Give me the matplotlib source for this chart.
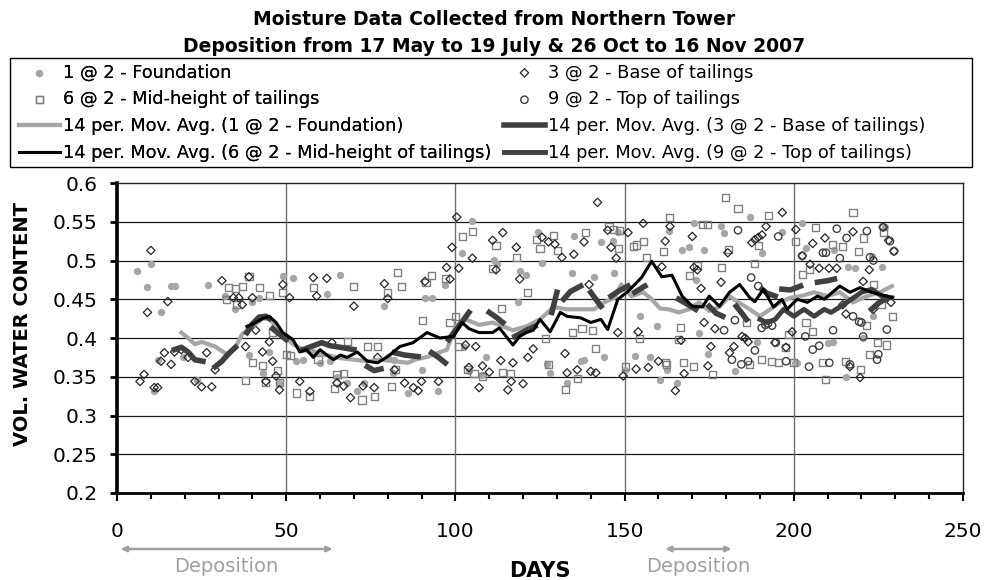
import numpy as np
import matplotlib
matplotlib.use('Agg')
import matplotlib.pyplot as plt
from matplotlib.patches import Rectangle

plt.rcParams['font.family'] = ['DejaVu Sans']

# ---- scatter data: 1 @ 2 - Foundation
found_days = [6, 9, 10, 11, 12, 13, 16, 17, 19.5, 23.6, 27, 32, 35, 39, 40, 42, 43, 45, 48, 49,
              52, 53, 55, 58, 60, 62, 63, 65, 66, 68, 71, 73, 79, 80, 81.5, 82, 86, 90, 91, 93,
              95, 97, 102, 102.5, 104, 105, 108, 109, 111.5, 112.2, 118.5, 119, 121, 124.5, 125.5,
              127, 128, 133, 134.5, 135, 137, 138, 141, 143, 144, 146.5, 147, 148, 150, 153,
              154.5, 157.5, 159.5, 160.5, 162.5, 163, 165.5, 167, 169, 170.5, 171, 172, 173.5,
              174.5, 178.5, 179.5, 182.5, 187, 189, 190.5, 196.5, 200.4, 201, 202.5, 203.5, 210,
              211.7, 212, 215.5, 216, 218, 220.5, 223, 223.5, 226, 227]
found_vals = [0.486, 0.466, 0.495, 0.331, 0.372, 0.433, 0.467, 0.467, 0.375, 0.346, 0.469, 0.454,
              0.437, 0.378, 0.446, 0.452, 0.355, 0.382, 0.342, 0.480, 0.477, 0.370, 0.372, 0.382,
              0.368, 0.457, 0.370, 0.350, 0.481, 0.342, 0.331, 0.342, 0.441, 0.375, 0.355, 0.372,
              0.329, 0.359, 0.452, 0.452, 0.331, 0.469, 0.510, 0.389, 0.357, 0.551, 0.352, 0.375,
              0.501, 0.496, 0.447, 0.486, 0.481, 0.537, 0.497, 0.366, 0.355, 0.342, 0.484, 0.531,
              0.370, 0.372, 0.479, 0.524, 0.375, 0.525, 0.484, 0.537, 0.359, 0.377, 0.429, 0.376,
              0.415, 0.346, 0.359, 0.538, 0.342, 0.513, 0.518, 0.549, 0.475, 0.407, 0.513, 0.379,
              0.544, 0.536, 0.357, 0.556, 0.395, 0.510, 0.537, 0.368, 0.368, 0.549, 0.516, 0.394,
              0.395, 0.514, 0.350, 0.491, 0.490, 0.400, 0.506, 0.428, 0.491, 0.543]

# ---- 3 @ 2 - Base of tailings
base_days = [6.8, 8, 9, 10, 11, 12, 13, 14, 15, 16, 17, 19, 21, 23, 25, 26.5, 28, 29, 31, 34.4,
             36, 37, 38, 39, 40, 41, 43, 44, 45, 46, 47, 48, 49, 51, 54, 57, 58, 59, 62, 63.5,
             65, 67, 69, 70, 72.7, 76, 77, 79, 80, 82, 85, 87.6, 89, 90, 91, 95, 97.4, 98.4, 99,
             100.4, 101, 103, 104, 105, 106, 107, 108, 110, 111, 112, 113.4, 114, 115.5, 116.5,
             117, 118, 119, 120, 121.4, 123, 125.6, 127.5, 129.4, 131.5, 132.4, 133, 135, 136,
             138, 139.5, 140, 141.5, 142, 145, 146, 147.5, 148, 149.6, 151, 153.4, 154, 155.5,
             157, 160, 161, 162, 163.4, 165, 166.7, 167.6, 170, 170.5, 171.5, 172.6, 173.5, 174.6,
             175.5, 176.7, 178.5, 180.5, 181, 182.3, 184.7, 185.6, 186.5, 187.6, 188.5, 189.5,
             190.6, 191.8, 194.4, 196.6, 197.7, 199.5, 200.6, 202.5, 204.8, 205.6, 207.5, 209.2,
             210.4, 212.7, 214.5, 215.4, 216.6, 217.5, 219.6, 220.5, 222.3, 223.5, 226.4, 228,
             228.7, 229.6]
base_vals = [0.344, 0.353, 0.433, 0.513, 0.336, 0.336, 0.370, 0.381, 0.447, 0.366, 0.382, 0.385,
             0.375, 0.344, 0.337, 0.381, 0.337, 0.359, 0.474, 0.452, 0.452, 0.443, 0.389, 0.479,
             0.452, 0.410, 0.382, 0.344, 0.395, 0.370, 0.351, 0.333, 0.469, 0.452, 0.344, 0.331,
             0.478, 0.454, 0.477, 0.394, 0.342, 0.338, 0.323, 0.441, 0.338, 0.336, 0.375, 0.470,
             0.451, 0.359, 0.342, 0.336, 0.332, 0.344, 0.473, 0.344, 0.491, 0.476, 0.517, 0.556,
             0.490, 0.391, 0.362, 0.503, 0.389, 0.336, 0.364, 0.356, 0.526, 0.488, 0.371, 0.536,
             0.333, 0.344, 0.368, 0.517, 0.476, 0.341, 0.375, 0.386, 0.530, 0.524, 0.521, 0.504,
             0.380, 0.355, 0.508, 0.359, 0.524, 0.469, 0.357, 0.355, 0.575, 0.539, 0.517, 0.503,
             0.407, 0.351, 0.536, 0.360, 0.408, 0.548, 0.362, 0.370, 0.492, 0.525, 0.544, 0.332,
             0.397, 0.354, 0.531, 0.491, 0.488, 0.464, 0.420, 0.364, 0.389, 0.412, 0.472, 0.510,
             0.381, 0.389, 0.402, 0.400, 0.395, 0.523, 0.527, 0.530, 0.533, 0.544, 0.394, 0.562,
             0.388, 0.408, 0.540, 0.506, 0.495, 0.522, 0.490, 0.529, 0.490, 0.490, 0.443, 0.431,
             0.363, 0.537, 0.349, 0.473, 0.488, 0.437, 0.543, 0.526, 0.446, 0.512]

# ---- 6 @ 2 - Mid-height of tailings
mid_days = [32.4, 33, 35, 35.3, 37, 38, 39, 40, 42, 43, 44, 45, 46, 47.5, 48, 49, 50, 51.4, 53,
            57, 58, 59.4, 64.4, 65, 67, 68, 70, 72.4, 74, 76, 77, 80, 81, 82.4, 83, 84, 90.4,
            91.3, 93, 97, 98.4, 100, 101, 102, 103.7, 105, 105.5, 108, 111, 112, 113.5, 114,
            116.4, 118, 121.4, 124, 125, 126.5, 127.4, 129, 130.3, 132.4, 134.5, 136.2, 137.4,
            138.5, 140.4, 141.5, 145.4, 146.6, 148.3, 148.6, 150.4, 152.5, 153.6, 154.5, 155.5,
            156.6, 161.4, 162, 162.5, 163.4, 165.8, 166.4, 167.4, 169.3, 170.3, 171.4, 173, 174.6,
            176, 178.5, 179.7, 180.6, 183.5, 186, 187, 188.5, 189.5, 190.5, 192.4, 193.5, 195.4,
            197.5, 198.3, 199.8, 200.6, 202.7, 203.6, 204.6, 205.6, 206.5, 208.6, 209.5, 211.5,
            214.5, 215.4, 217.5, 219, 219.6, 220.5, 221.6, 222.5, 223.5, 224.6, 225.8, 226.4,
            227.5, 229.3]
mid_vals = [0.450, 0.465, 0.464, 0.443, 0.466, 0.345, 0.479, 0.368, 0.465, 0.364, 0.343, 0.455,
            0.407, 0.358, 0.342, 0.459, 0.379, 0.377, 0.329, 0.325, 0.465, 0.372, 0.335, 0.353,
            0.354, 0.395, 0.466, 0.320, 0.389, 0.325, 0.389, 0.459, 0.338, 0.359, 0.485, 0.466,
            0.423, 0.472, 0.481, 0.477, 0.420, 0.428, 0.389, 0.531, 0.359, 0.538, 0.354, 0.350,
            0.490, 0.519, 0.438, 0.356, 0.354, 0.504, 0.459, 0.527, 0.516, 0.399, 0.366, 0.532,
            0.513, 0.333, 0.407, 0.348, 0.412, 0.536, 0.410, 0.386, 0.544, 0.540, 0.515, 0.539,
            0.363, 0.518, 0.520, 0.399, 0.524, 0.504, 0.512, 0.368, 0.366, 0.556, 0.398, 0.413,
            0.368, 0.481, 0.363, 0.493, 0.547, 0.547, 0.353, 0.491, 0.581, 0.514, 0.567, 0.420,
            0.366, 0.496, 0.519, 0.372, 0.558, 0.370, 0.368, 0.388, 0.404, 0.368, 0.525, 0.482,
            0.420, 0.488, 0.408, 0.542, 0.368, 0.347, 0.521, 0.518, 0.370, 0.562, 0.512, 0.359,
            0.529, 0.416, 0.379, 0.469, 0.394, 0.443, 0.536, 0.391, 0.428]

# ---- 9 @ 2 - Top of tailings
top_days = [179.4, 181.7, 182.6, 183.5, 184.5, 186.5, 187.4, 188.5, 189.5, 190.5, 191.6, 192.4,
            193.6, 194.7, 195.4, 197.7, 202.5, 203.4, 204.5, 205.6, 207.5, 208.6, 209.5, 210.5,
            211.6, 212.7, 213.6, 215.6, 216.6, 217.5, 219.3, 220, 220.5, 221.6, 222.5, 223.5,
            224.6, 225, 226.4, 227.5, 228.4, 229.6]
top_vals = [0.410, 0.372, 0.423, 0.539, 0.366, 0.370, 0.478, 0.384, 0.467, 0.413, 0.417, 0.419,
            0.416, 0.394, 0.531, 0.370, 0.506, 0.402, 0.363, 0.385, 0.390, 0.510, 0.510, 0.368,
            0.410, 0.541, 0.503, 0.529, 0.366, 0.428, 0.421, 0.420, 0.402, 0.538, 0.504, 0.500,
            0.372, 0.379, 0.543, 0.411, 0.525, 0.512]

# ---- 14 per. moving averages (NaN = break in the line)
ma_found_days = [19, 21, 23, 25, 27, 29, 31, 33, 35, 37, 40, 43, 45, 47, 49, 52, 55, 58, 62, 66,
                 70, 74, 78, 82, 86, 88, 92, 97.5, 100, 103, 107, 111, 114, 117, 121, 125, 129,
                 133, 137, 141, 144, 147, 149, 152, 155.5, 158, 160.5, 163, 166, 169, 172, 175,
                 178, 181, 184, 187, 190, 193, 196, 199, 202, 206, 210, 213.6, 217.5, 221.6,
                 225.5, 229]
ma_found_vals = [0.407, 0.400, 0.392, 0.395, 0.392, 0.389, 0.383, 0.378, 0.388, 0.405, 0.415,
                 0.425, 0.425, 0.415, 0.405, 0.392, 0.385, 0.380, 0.378, 0.374, 0.372, 0.370,
                 0.372, 0.370, 0.368, 0.372, 0.376, 0.385, 0.415, 0.424, 0.417, 0.420, 0.415,
                 0.410, 0.415, 0.424, 0.440, 0.437, 0.437, 0.437, 0.446, 0.452, 0.469, 0.454,
                 0.459, 0.450, 0.438, 0.437, 0.433, 0.437, 0.446, 0.435, 0.440, 0.454, 0.445,
                 0.437, 0.428, 0.437, 0.446, 0.452, 0.454, 0.459, 0.454, 0.459, 0.446, 0.454,
                 0.459, 0.467]

nan = np.nan
ma_base_days = [17, 19, 21, 23, 25.4, nan, 29, 31, 33, 35, nan, 38.4, 40, 42, 44, 45, nan, 46,
                48, 50, nan, 55, 58, 60.5, 63, 66, 70, nan, 74, 76, 78, nan, 82, 85, 89, nan, 93,
                95, 97, nan, 98, 101, 104, nan, 110, 112, 114, nan, 117.6, 121, 123.5, nan, 128.5,
                130, nan, 132, 134, 137, nan, 140, 143, nan, 146, 148, 151, nan, 153, 156, nan,
                166, 168, 171, nan, 175, 177, 179, nan, 183, 185, 186, nan, 190.6, 192, 194.5,
                nan, 196.5, 199, 202, nan, 207, 210, 212, nan, 223, 225, 227]
ma_base_vals = [0.385, 0.388, 0.382, 0.372, 0.370, nan, 0.363, 0.370, 0.380, 0.388, nan, 0.407,
                0.418, 0.427, 0.428, 0.425, nan, 0.412, 0.405, 0.398, nan, 0.385, 0.390, 0.394,
                0.390, 0.388, 0.385, nan, 0.363, 0.358, 0.360, nan, 0.381, 0.378, 0.376, nan,
                0.381, 0.375, 0.368, nan, 0.398, 0.415, 0.433, nan, 0.433, 0.427, 0.420, nan,
                0.402, 0.410, 0.415, nan, 0.433, 0.459, nan, 0.450, 0.460, 0.467, nan, 0.459,
                0.441, nan, 0.454, 0.460, 0.467, nan, 0.459, 0.467, nan, 0.450, 0.445, 0.437,
                nan, 0.441, 0.432, 0.428, nan, 0.441, 0.430, 0.424, nan, 0.463, 0.458, 0.454,
                nan, 0.463, 0.462, 0.467, nan, 0.472, 0.474, 0.476, nan, 0.437, 0.445, 0.450]

ma_mid_days = [38.4, 41, 43, 45, 47, 49, 52, 54, 56, 58, 60, 62, 64, 66, 68, 71, 74, 77, 80, 83.6,
               87.5, 91.6, 95.4, 99.4, 102, 104, 107, 111, 113, 117, 119, 121, 123, 125, 128, 131,
               133, 137, 140, 143, 145, 148, 151, 155, 158, 161, 164, 167, 170, 173, 175, 178, 181,
               184, 187, 188.5, 191, 194, 196.5, 198, 201, 204, 207, 209, 213.6, 216.6, 219.6,
               223, 227.5, 229]
ma_mid_vals = [0.415, 0.420, 0.425, 0.428, 0.420, 0.407, 0.398, 0.382, 0.385, 0.375, 0.385, 0.378,
               0.372, 0.378, 0.375, 0.382, 0.370, 0.368, 0.376, 0.389, 0.394, 0.407, 0.400, 0.402,
               0.420, 0.412, 0.407, 0.407, 0.413, 0.391, 0.402, 0.407, 0.410, 0.424, 0.408, 0.433,
               0.428, 0.426, 0.420, 0.424, 0.411, 0.450, 0.460, 0.478, 0.499, 0.479, 0.481, 0.454,
               0.441, 0.440, 0.454, 0.441, 0.459, 0.469, 0.452, 0.447, 0.463, 0.440, 0.450, 0.437,
               0.450, 0.446, 0.454, 0.450, 0.467, 0.459, 0.465, 0.459, 0.454, 0.452]

ma_top_days = [190, 192, 194.5, 197, 200, 203, 206, 209, 211, 214, 217, 220, 223, 226, 229]
ma_top_vals = [0.424, 0.420, 0.424, 0.437, 0.428, 0.437, 0.428, 0.437, 0.433, 0.441, 0.450, 0.459,
               0.463, 0.454, 0.452]

# deposition periods (days)
dep_periods = [(1.1, 63.7), (162, 181.6)]

W, H = 989, 580
fig = plt.figure(figsize=(W / 100, H / 100), dpi=100)
ax = fig.add_axes([117 / W, 1 - 493 / H, 846 / W, 310 / H])

ax.set_xlim(0, 250)
ax.set_ylim(0.2, 0.6)
ax.set_xticks(np.arange(0, 251, 50))
ax.set_xticks(np.arange(0, 251, 10), minor=True)
ax.set_yticks(np.arange(0.2, 0.601, 0.05))
ax.set_yticklabels(['0.2', '0.25', '0.3', '0.35', '0.4', '0.45', '0.5', '0.55', '0.6'])

for y in np.arange(0.25, 0.6, 0.05):
    ax.axhline(y, color='#1a1a1a', lw=0.9, zorder=0)
for x in [50, 100, 150, 200]:
    ax.axvline(x, color='#6e6e6e', lw=1.0, zorder=0)

s1 = ax.scatter(found_days, found_vals, s=28, marker='o', color='#a6a6a6', linewidths=0, zorder=2)
s6 = ax.scatter(mid_days, mid_vals, s=26, marker='s', facecolors='none', edgecolors='#808080',
                linewidths=1.0, zorder=2)
s3 = ax.scatter(base_days, base_vals, s=18, marker='D', facecolors='none', edgecolors='#262626',
                linewidths=0.9, zorder=3)
s9 = ax.scatter(top_days, top_vals, s=28, marker='o', facecolors='none', edgecolors='#404040',
                linewidths=1.0, zorder=3)

l1, = ax.plot(ma_found_days, ma_found_vals, color='#a6a6a6', lw=3, zorder=4)
l3, = ax.plot(ma_base_days, ma_base_vals, color='#404040', lw=4, zorder=4)
l6, = ax.plot(ma_mid_days, ma_mid_vals, color='black', lw=2.2, zorder=5)
l9, = ax.plot(ma_top_days, ma_top_vals, color='#404040', lw=3.5, zorder=4)

ax.spines['left'].set_linewidth(2.6)
ax.spines['bottom'].set_linewidth(2.0)
for side in ['top', 'right']:
    ax.spines[side].set_linewidth(1.0)
    ax.spines[side].set_color('#222222')

ax.tick_params(axis='y', which='major', direction='out', length=5, width=2, labelsize=14.5, pad=9)
ax.tick_params(axis='x', which='major', direction='out', length=5.8, width=1.5, labelsize=14.5,
               pad=15)
ax.tick_params(axis='x', which='minor', direction='out', length=4.3, width=1.5)

fig.text(23 / W, 1 - 324 / H, 'VOL. WATER CONTENT', rotation=90, ha='center', va='center',
         fontsize=14, fontweight='bold')
ax.text(125, (493 - 577) / 310, 'DAYS', transform=ax.get_xaxis_transform(), ha='center',
        va='baseline', fontsize=15, fontweight='bold')

for d0, d1 in dep_periods:
    ax.annotate('', xy=(d0, (493 - 549) / 310), xytext=(d1, (493 - 549) / 310),
                xycoords=ax.get_xaxis_transform(), textcoords=ax.get_xaxis_transform(),
                arrowprops=dict(arrowstyle='<|-|>', color='#a0a0a0', lw=1.8,
                                mutation_scale=8, shrinkA=0, shrinkB=0),
                annotation_clip=False)
    ax.text((d0 + d1) / 2, (493 - 572.5) / 310, 'Deposition', transform=ax.get_xaxis_transform(),
            ha='center', va='baseline', fontsize=14, color='#a0a0a0')

fig.text(0.5, 1 - 25 / H, 'Moisture Data Collected from Northern Tower', ha='center',
         va='baseline', fontsize=13.5, fontweight='bold')
fig.text(0.5, 1 - 52 / H, 'Deposition from 17 May to 19 July & 26 Oct to 16 Nov 2007',
         ha='center', va='baseline', fontsize=13.5, fontweight='bold')

# legend frame, then two columns of entries
fig.patches.append(Rectangle((10 / W, 1 - 167 / H), 962 / W, 109 / H, transform=fig.transFigure,
                             fill=False, edgecolor='black', lw=1.0))

leg_kw = dict(loc='upper left', fontsize=12.8, frameon=False, handlelength=2.3,
              handletextpad=0.15, borderaxespad=0, borderpad=0, labelspacing=0.50,
              scatterpoints=1)
leg1 = fig.legend([s1, s6, l1, l6],
                  ['1 @ 2 - Foundation', '6 @ 2 - Mid-height of tailings',
                   '14 per. Mov. Avg. (1 @ 2 - Foundation)',
                   '14 per. Mov. Avg. (6 @ 2 - Mid-height of tailings)'],
                  bbox_to_anchor=(19 / W, 1 - 63.5 / H), **leg_kw)
fig.legend([s3, s9, l3, l9],
           ['3 @ 2 - Base of tailings', '9 @ 2 - Top of tailings',
            '14 per. Mov. Avg. (3 @ 2 - Base of tailings)',
            '14 per. Mov. Avg. (9 @ 2 - Top of tailings)'],
           bbox_to_anchor=(504 / W, 1 - 63.5 / H), **leg_kw)
fig.add_artist(leg1)

fig.savefig('out.png', dpi=100)
